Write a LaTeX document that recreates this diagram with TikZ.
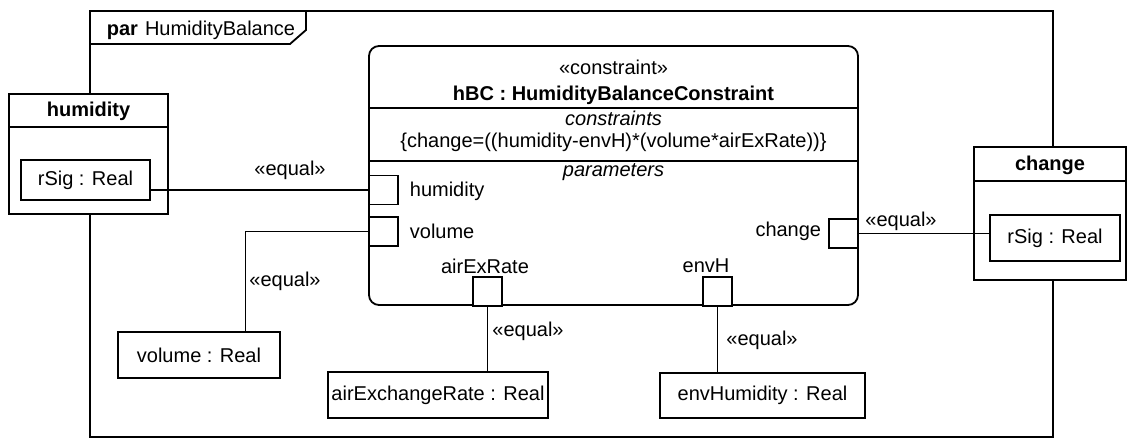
\documentclass[tikz,border=0pt]{standalone}
\usepackage{fontspec}
\setmainfont{Liberation Sans}
\usetikzlibrary{calc}

\begin{document}
\begin{tikzpicture}[x=0.5pt, y=-0.5pt, line width=0.9pt,
  every node/.style={font=\fontsize{10}{12}\selectfont},
  part/.style={draw, fill=white, inner sep=0pt},
  port/.style={draw, fill=white, minimum size=14.5pt, inner sep=0pt},
  txt/.style={inner sep=0pt}]
\useasboundingbox (0,0) rectangle (1127,439);

\draw (90,11) rectangle (1053,437);
\draw (90,44) -- (290,44) -- (306,30) -- (306,11);
\node[txt, anchor=west] (ttl) at (106,30) {\textbf{par}\hspace{3.5pt}HumidityBalance};

\node[part, rounded corners=5pt, minimum width=244.5pt, minimum height=129.5pt] (hbc) at (613.5,175.5) {};
\draw ([yshift=-31.5pt]hbc.north west) -- ([yshift=-31.5pt]hbc.north east);
\draw ([yshift=-57.8pt]hbc.north west) -- ([yshift=-57.8pt]hbc.north east);
\node (stereo) at (613.5,67) {«constraint»};
\node (hbcname) at (613.5,95) {\textbf{hBC : HumidityBalanceConstraint}};
\node (cstitle) at (613.5,118) {\textit{constraints}};
\node (csexpr) at (613.5,142) {\{change=((humidity-envH)*(volume*airExRate))\}};
\node (pstitle) at (613.5,172) {\textit{parameters}};

\node[part, minimum width=79.5pt, minimum height=60pt] (humb) at (88.5,154) {};
\draw ([yshift=-17pt]humb.north west) -- ([yshift=-17pt]humb.north east);
\node (humbname) at (88.5,111) {\textbf{humidity}};
\node[part, minimum width=64.5pt, minimum height=20pt] (humsig) at (85.5,180) {rSig : Real};

\node[part, minimum width=76pt, minimum height=66.5pt] (chgb) at (1050,213.5) {};
\draw ([yshift=-17.5pt]chgb.north west) -- ([yshift=-17.5pt]chgb.north east);
\node (chgbname) at (1050,165) {\textbf{change}};
\node[part, minimum width=65pt, minimum height=23pt] (chgsig) at (1055,238) {rSig : Real};

\node[part, minimum width=81pt, minimum height=23pt] (volr) at (199,355) {volume : Real};
\node[part, minimum width=110pt, minimum height=23pt] (aerr) at (438,395) {airExchangeRate : Real};
\node[part, minimum width=102.5pt, minimum height=22.5pt] (envr) at (762.5,395.5) {envHumidity : Real};

\node[port] (hump) at (383.5,190) {};
\node[port] (volp) at (383.5,231.5) {};
\node[port] (chgp) at (843.5,233.5) {};
\node[port] (aerp) at (487.5,291.5) {};
\node[port] (envp) at (717.5,291.5) {};

\node[txt, anchor=west] (humpl) at (409,191) {humidity};
\node[txt, anchor=west] (volpl) at (409,231) {volume};
\node[txt, anchor=east] (chgpl) at (822,231) {change};
\node (aerpl) at (485,266) {airExRate};
\node (envpl) at (706,266) {envH};

\draw (hump.west) -- (hump.west -| humsig.east);
\draw (volp.west) -| ($(volr.north west)!0.784!(volr.north east)$);
\draw (aerp.south) -- (aerp.south |- aerr.north);
\draw (envp.south) -- (envp.south |- envr.north);
\draw (chgp.east) -- (chgp.east -| chgsig.west);

\node (eqhum) at (290,170) {«equal»};
\node (eqvol) at (285,281) {«equal»};
\node (eqaer) at (528,331) {«equal»};
\node (eqenv) at (762,340) {«equal»};
\node (eqchg) at (901,221) {«equal»};
\end{tikzpicture}
\end{document}
